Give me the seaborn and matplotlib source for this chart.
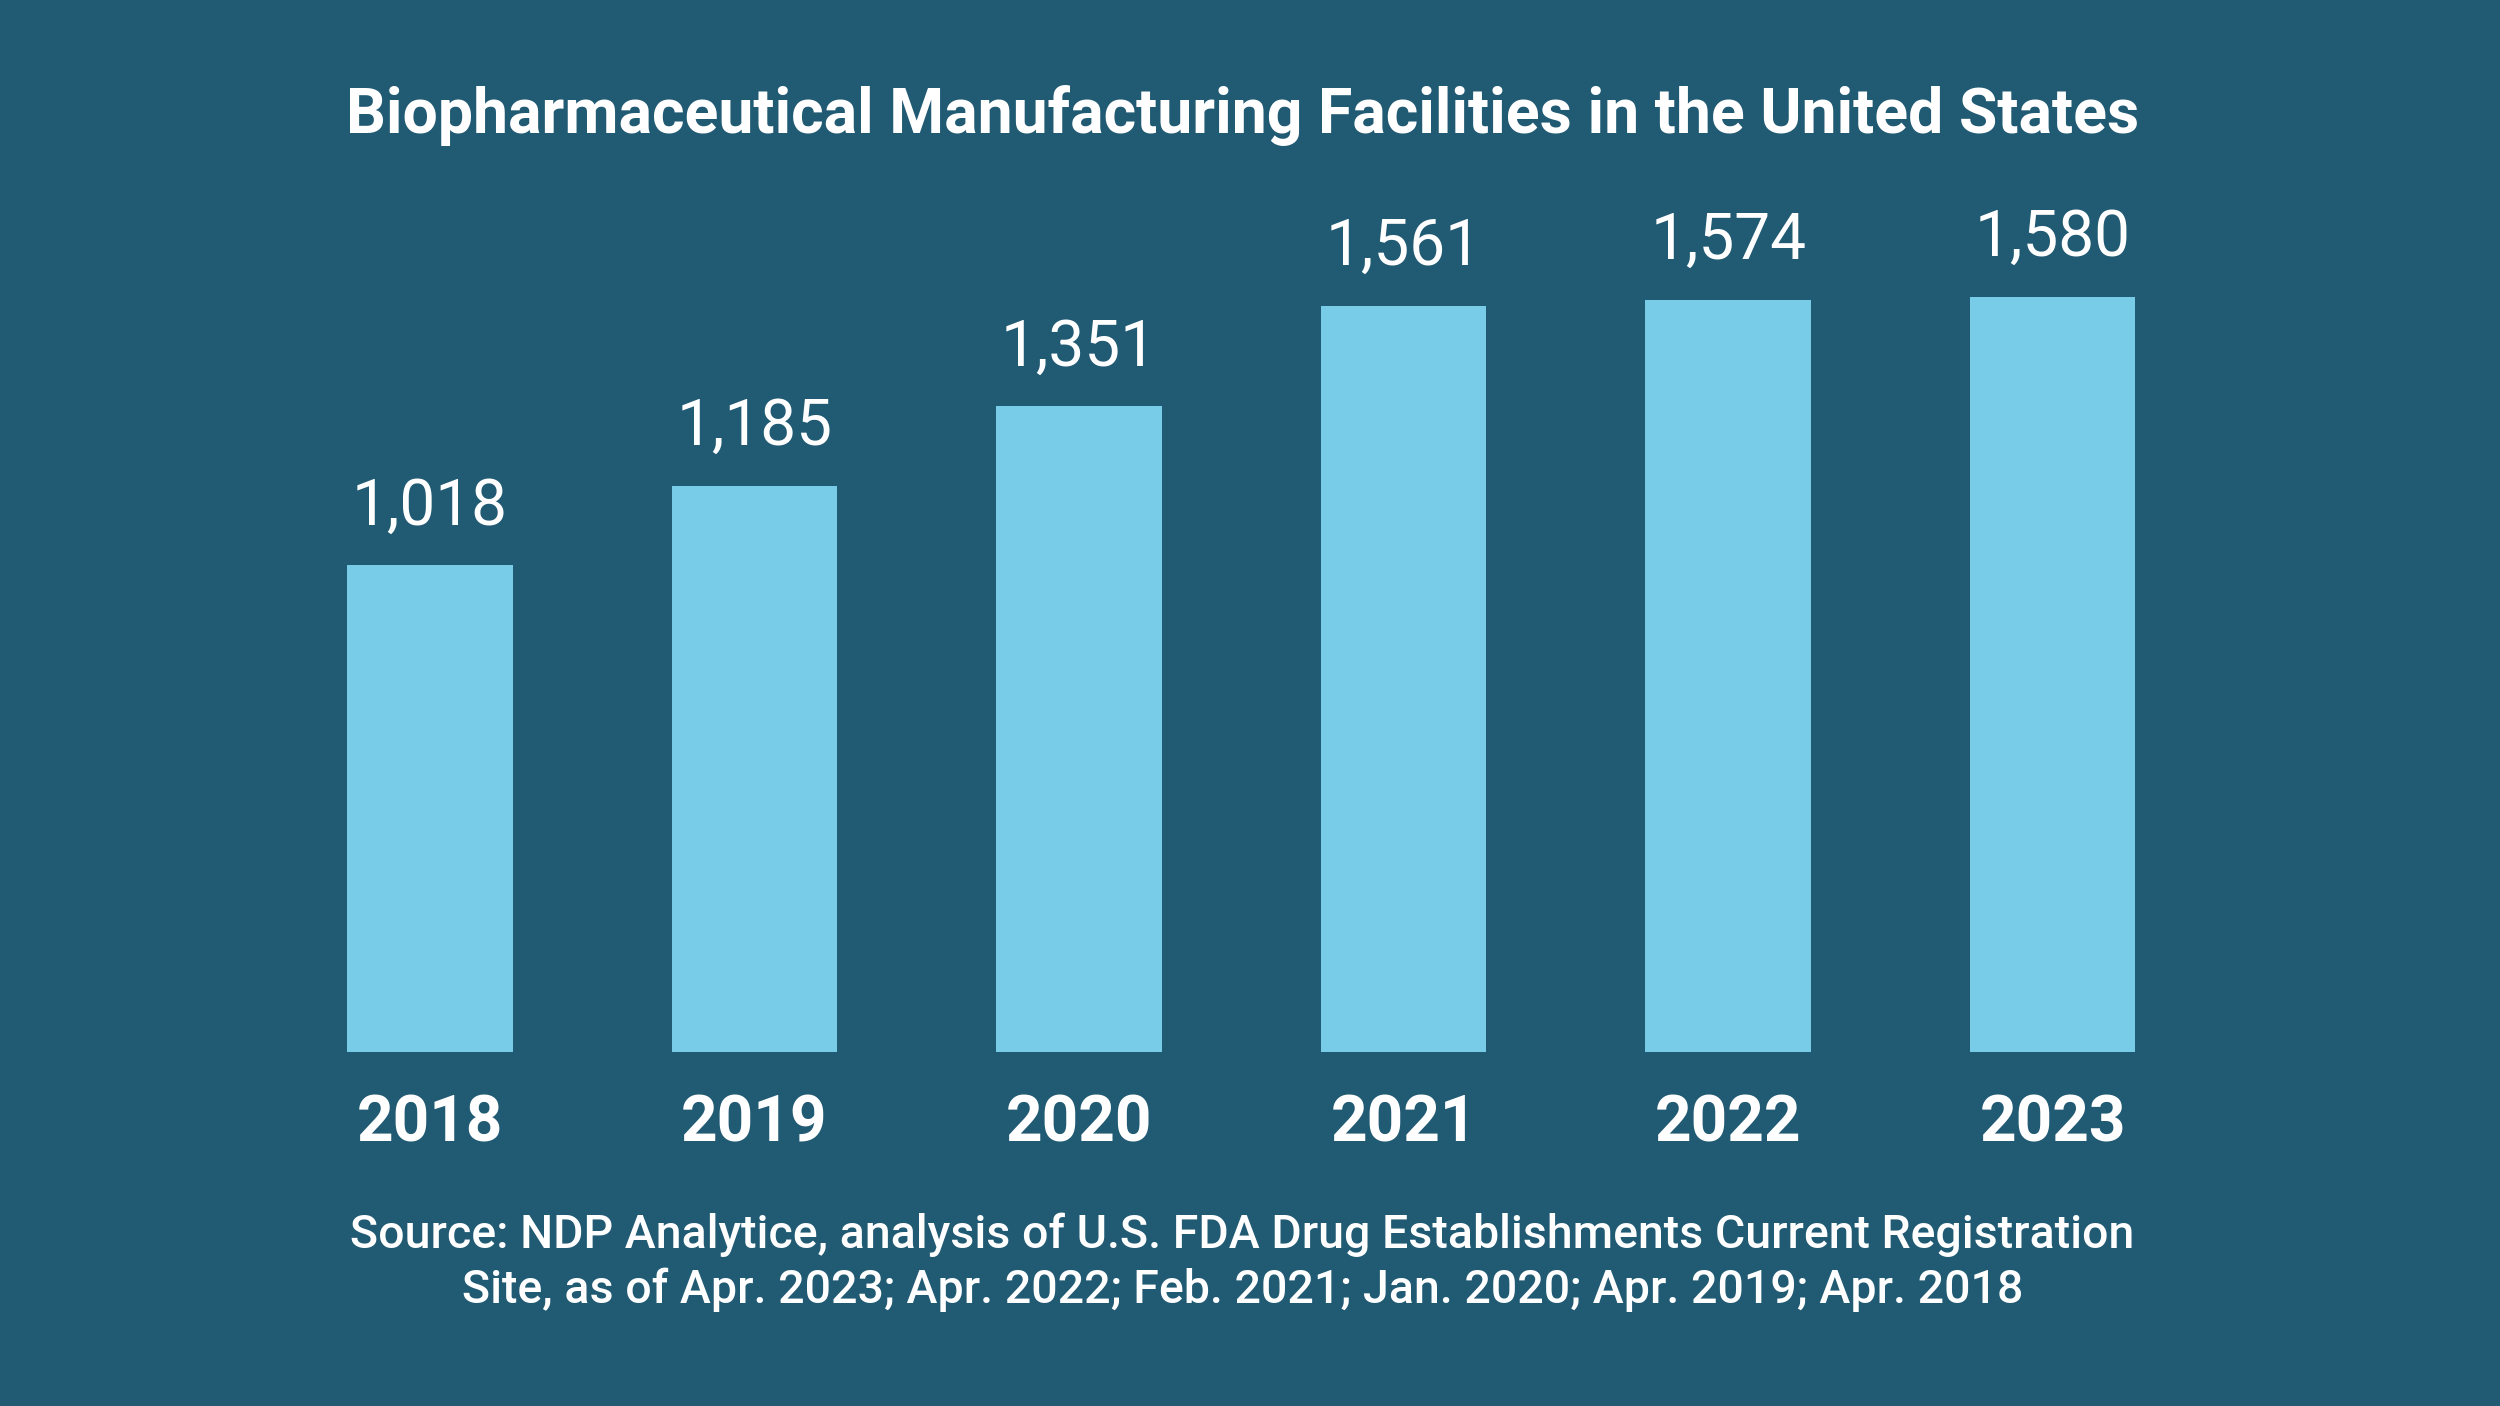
import matplotlib
matplotlib.use("Agg")
import matplotlib.pyplot as plt
import seaborn as sns
import pandas as pd

years = ['2018', '2019', '2020', '2021', '2022', '2023']
facilities = [1018, 1185, 1351, 1561, 1574, 1580]

BG = '#215a73'
BAR = '#78cce8'

sns.set_theme(style='white')
plt.rcParams['font.family'] = ['Roboto', 'DejaVu Sans']

df = pd.DataFrame({'year': years, 'count': facilities})

fig = plt.figure(figsize=(25, 14.06), dpi=100, facecolor=BG)
ax = fig.add_axes([0.107, 0.2517, 0.779, 0.578])
ax.set_facecolor(BG)

sns.barplot(data=df, x='year', y='count', color=BAR, width=0.51,
            saturation=1, edgecolor=BAR, linewidth=0, ax=ax)

ax.set_ylim(0, 1700)
ax.set_xlim(-0.5, 5.5)
for s in ax.spines.values():
    s.set_visible(False)
ax.set_yticks([])
ax.set_xlabel('')
ax.set_ylabel('')
ax.tick_params(axis='x', length=0, pad=30)
for lbl in ax.get_xticklabels():
    lbl.set_color('white')
    lbl.set_fontsize(46)
    lbl.set_fontweight('bold')

# value labels above each bar
for i, v in enumerate(facilities):
    ax.annotate(f'{v:,}', (i, v), xytext=(0, 20), textcoords='offset points',
                ha='center', va='bottom', color='white', fontsize=46,
                fontweight='normal')

fig.text(0.497, 0.918, 'Biopharmaceutical Manufacturing Facilities in the United States',
         ha='center', va='center', color='white', fontsize=45, fontweight='bold')

fig.text(0.497, 0.102,
         'Source: NDP Analytice, analysis of U.S. FDA Drug Establishments Current Registration\n'
         'Site, as of Apr. 2023; Apr. 2022; Feb. 2021; Jan. 2020; Apr. 2019; Apr. 2018',
         ha='center', va='center', color='white', fontsize=33.5, fontweight='medium',
         linespacing=1.3)

fig.savefig('out.png', dpi=100, facecolor=BG)
